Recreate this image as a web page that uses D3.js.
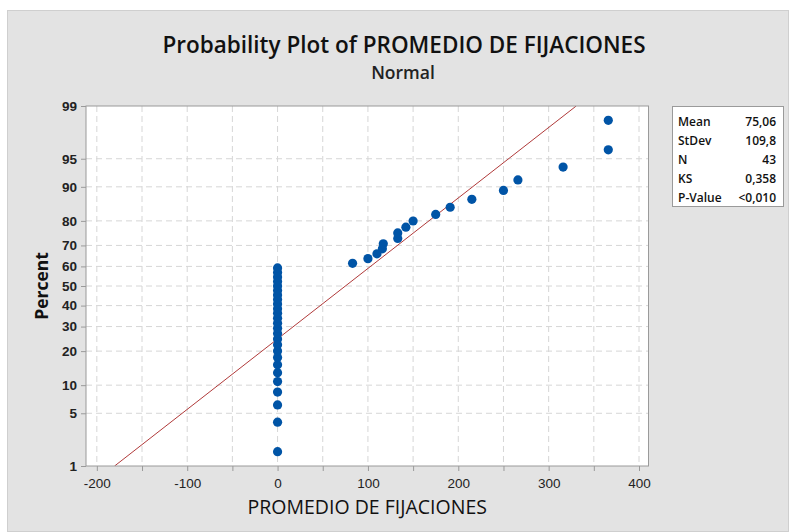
<!DOCTYPE html>
<html>
<head>
<meta charset="utf-8">
<script src="https://cdn.jsdelivr.net/npm/d3@7"></script>
<style>
  body { margin: 0; background: #fff; }
  svg { display: block; font-family: "Open Sans", "Noto Sans", sans-serif; }
  .grid line { stroke: #d6d6d6; stroke-dasharray: 6,4; }
  .axis path, .axis line { stroke: #9a9a9a; }
  .axis text { fill: #222; font-size: 13.5px; }
  .y.axis text { font-weight: 600; }
</style>
</head>
<body>
<script>
"use strict"

// Normal probability plot, Minitab style

var values = [
  0, 0, 0, 0, 0, 0, 0, 0, 0, 0, 0, 0, 0,
  0, 0, 0, 0, 0, 0, 0, 0, 0, 0, 0, 0, 0,
  83, 100, 110, 116, 117, 133, 133, 142, 150,
  175, 191, 215, 250, 266, 316, 366, 366
]

var statLabels = ["Mean", "StDev", "N", "KS", "P-Value"]
var statValues = ["75,06", "109,8", "43", "0,358", "<0,010"]
var mean = 75.06
var stdev = 109.8

var xTicks = [-200, -100, 0, 100, 200, 300, 400]
var xMinor = [-200, -150, -100, -50, 0, 50, 100, 150, 200, 250, 300, 350, 400]
var yTicks = [1, 5, 10, 20, 30, 40, 50, 60, 70, 80, 90, 95, 99]

var width = 789
var height = 532
var plotLeft = 86, plotRight = 648.5, plotTop = 106, plotBottom = 466

// inverse normal cdf (Acklam)
function probit(p) {
  var a = [-39.69683028665376, 220.9460984245205, -275.9285104469687,
    138.3577518672690, -30.66479806614716, 2.506628277459239]
  var b = [-54.47609879822406, 161.5858368580409, -155.6989798598866,
    66.80131188771972, -13.28068155288572]
  var c = [-0.007784894002430293, -0.3223964580411365, -2.400758277161838,
    -2.549732539343734, 4.374664141464968, 2.938163982698783]
  var d = [0.007784695709041462, 0.3224671290700398, 2.445134137142996,
    3.754408661907416]
  var q, r
  if (p < 0.02425) {
    q = Math.sqrt(-2 * Math.log(p))
    return (((((c[0]*q+c[1])*q+c[2])*q+c[3])*q+c[4])*q+c[5]) /
      ((((d[0]*q+d[1])*q+d[2])*q+d[3])*q+1)
  }
  if (p > 1 - 0.02425) {
    q = Math.sqrt(-2 * Math.log(1 - p))
    return -(((((c[0]*q+c[1])*q+c[2])*q+c[3])*q+c[4])*q+c[5]) /
      ((((d[0]*q+d[1])*q+d[2])*q+d[3])*q+1)
  }
  q = p - 0.5
  r = q * q
  return (((((a[0]*r+a[1])*r+a[2])*r+a[3])*r+a[4])*r+a[5])*q /
    (((((b[0]*r+b[1])*r+b[2])*r+b[3])*r+b[4])*r+1)
}

var n = values.length
// median ranks (Benard)
var points = values.slice().sort(d3.ascending).map(function(v, i) {
  return { value: v, p: (i + 1 - 0.3) / (n + 0.4) }
})

var x = d3.scaleLinear().domain([-212, 410.5]).range([plotLeft, plotRight])
var y = d3.scaleLinear().domain([probit(0.01), probit(0.99)]).range([plotBottom, plotTop])

var svg = d3.select("body").append("svg")
  .attr("width", width)
  .attr("height", height)

svg.append("rect")
  .attr("x", 7.5).attr("y", 10.5)
  .attr("width", width - 8).attr("height", height - 11)
  .attr("fill", "#e3e3e3")
  .attr("stroke", "#cfcfcf")

svg.append("text")
  .attr("x", 404).attr("y", 53)
  .attr("text-anchor", "middle")
  .attr("font-size", 22.5)
  .attr("font-weight", 600)
  .attr("fill", "#111")
  .text("Probability Plot of PROMEDIO DE FIJACIONES")

svg.append("text")
  .attr("x", 403).attr("y", 79)
  .attr("text-anchor", "middle")
  .attr("font-size", 17.5)
  .attr("font-weight", 600)
  .attr("fill", "#222")
  .text("Normal")

svg.append("rect")
  .attr("x", plotLeft).attr("y", plotTop)
  .attr("width", plotRight - plotLeft).attr("height", plotBottom - plotTop)
  .attr("fill", "#fff")

var grid = svg.append("g").attr("class", "grid")
grid.selectAll("line.v")
  .data(xMinor)
  .enter().append("line")
    .attr("class", "v")
    .attr("x1", function(d) { return x(d) })
    .attr("x2", function(d) { return x(d) })
    .attr("y1", plotTop).attr("y2", plotBottom)
grid.selectAll("line.h")
  .data(yTicks.slice(1, -1))
  .enter().append("line")
    .attr("class", "h")
    .attr("x1", plotLeft).attr("x2", plotRight)
    .attr("y1", function(d) { return y(probit(d / 100)) })
    .attr("y2", function(d) { return y(probit(d / 100)) })

svg.append("clipPath").attr("id", "clip")
  .append("rect")
  .attr("x", plotLeft).attr("y", plotTop)
  .attr("width", plotRight - plotLeft).attr("height", plotBottom - plotTop)

var fitLine = d3.line()
  .x(function(d) { return x(mean + stdev * d) })
  .y(function(d) { return y(d) })

svg.append("path")
  .datum([probit(0.01), probit(0.99)])
  .attr("clip-path", "url(#clip)")
  .attr("d", fitLine)
  .attr("fill", "none")
  .attr("stroke", "#b03a3a")
  .attr("stroke-width", 1)

svg.append("g")
  .selectAll("circle")
  .data(points)
  .enter().append("circle")
    .attr("cx", function(d) { return x(d.value) })
    .attr("cy", function(d) { return y(probit(d.p)) })
    .attr("r", 4.6)
    .attr("fill", "#0054a6")

svg.append("rect")
  .attr("x", plotLeft).attr("y", plotTop)
  .attr("width", plotRight - plotLeft).attr("height", plotBottom - plotTop)
  .attr("fill", "none")
  .attr("stroke", "#9a9a9a")

// x axis: minor ticks every 50, labels every 100
var xAxis = svg.append("g")
  .attr("class", "x axis")
  .attr("transform", "translate(0," + plotBottom + ")")
  .call(d3.axisBottom(x).tickValues(xMinor).tickSize(5).tickSizeOuter(0)
    .tickFormat(function(d) { return xTicks.indexOf(d) >= 0 ? d : "" }))
xAxis.select(".domain").remove()
xAxis.selectAll("text").attr("dy", "1.05em").attr("font-weight", 500)

var yAxis = svg.append("g")
  .attr("class", "y axis")
  .attr("transform", "translate(" + plotLeft + ",0)")
  .call(d3.axisLeft(y).tickValues(yTicks.map(function(d) { return probit(d / 100) }))
    .tickSize(5).tickSizeOuter(0)
    .tickFormat(function(d, i) { return yTicks[i] }))
yAxis.select(".domain").remove()
yAxis.selectAll("text").attr("x", -9)

svg.append("text")
  .attr("x", (plotLeft + plotRight) / 2).attr("y", 514)
  .attr("text-anchor", "middle")
  .attr("font-size", 19.5)
  .attr("fill", "#111")
  .text("PROMEDIO DE FIJACIONES")

svg.append("text")
  .attr("transform", "translate(48," + ((plotTop + plotBottom) / 2) + ") rotate(-90)")
  .attr("text-anchor", "middle")
  .attr("font-size", 17.5)
  .attr("font-weight", 700)
  .attr("fill", "#111")
  .text("Percent")

// stats box
var box = svg.append("g").attr("transform", "translate(672,106)")
box.append("rect")
  .attr("x", 0.5).attr("y", 0.5)
  .attr("width", 111).attr("height", 100)
  .attr("fill", "#fff")
  .attr("stroke", "#9a9a9a")
box.selectAll("text.lab")
  .data(statLabels)
  .enter().append("text")
    .attr("class", "lab")
    .attr("x", 6)
    .attr("y", function(d, i) { return 20 + i * 19 })
    .attr("font-size", 12)
    .attr("font-weight", 600)
    .attr("fill", "#111")
    .text(function(d) { return d })
box.selectAll("text.val")
  .data(statValues)
  .enter().append("text")
    .attr("class", "val")
    .attr("x", 104)
    .attr("y", function(d, i) { return 20 + i * 19 })
    .attr("text-anchor", "end")
    .attr("font-size", 12)
    .attr("font-weight", 600)
    .attr("fill", "#111")
    .text(function(d) { return d })
</script>
</body>
</html>
